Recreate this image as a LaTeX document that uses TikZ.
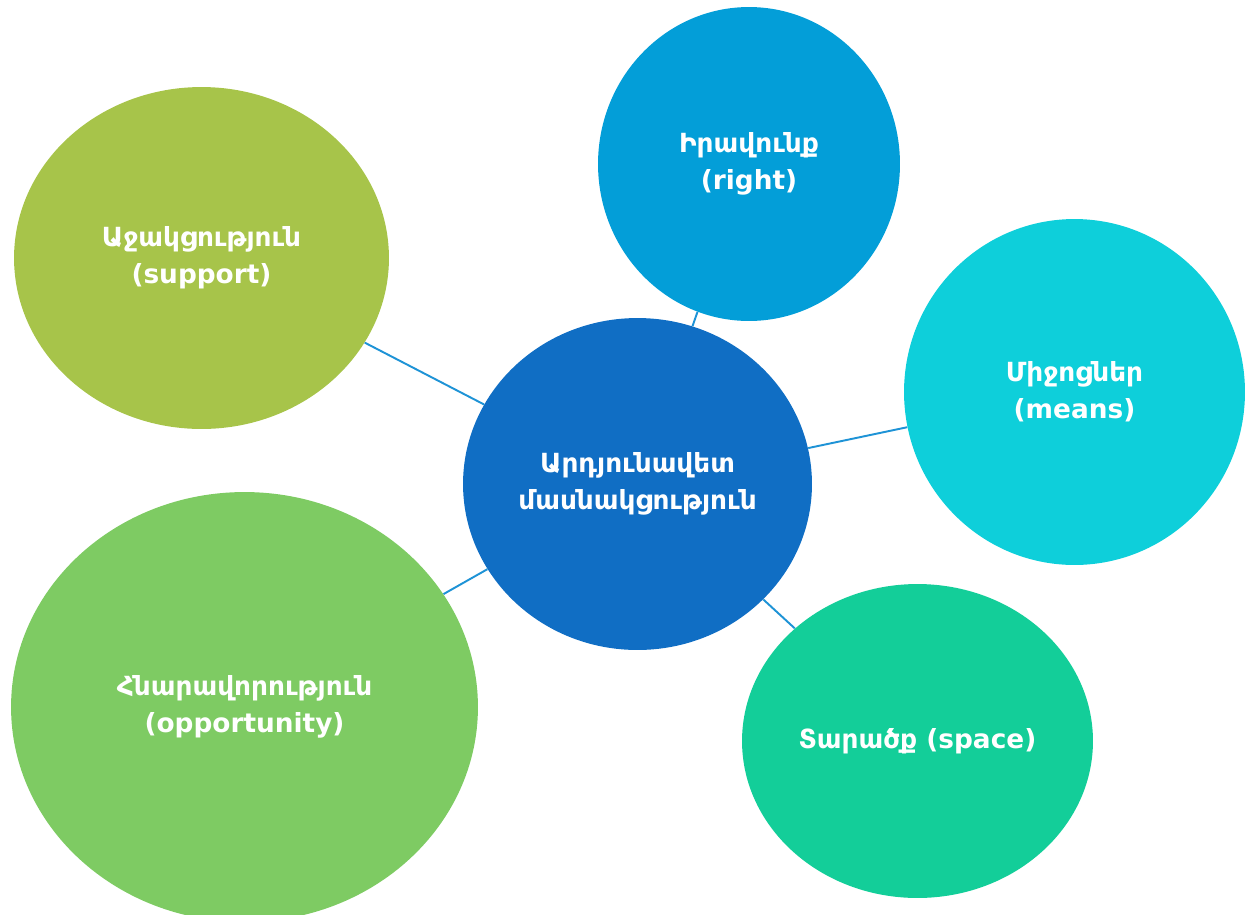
\documentclass[tikz,border=0pt]{standalone}
\usepackage{fontspec}
\setmainfont{DejaVu Sans}
\usetikzlibrary{shapes.geometric}
\definecolor{mainblue}{HTML}{106EC4}
\definecolor{supportgreen}{HTML}{A7C44A}
\definecolor{oppgreen}{HTML}{7ECB63}
\definecolor{rightblue}{HTML}{039ED8}
\definecolor{meanscyan}{HTML}{0ECFDA}
\definecolor{spacegreen}{HTML}{13CE99}
\definecolor{linkblue}{HTML}{1E93D6}

\begin{document}
\begin{tikzpicture}[x=0.02cm,y=-0.02cm,
    bubble/.style ={ellipse, inner sep=0pt, align=center, text=white,
                    font=\bfseries\fontsize{15}{21}\selectfont},
    link/.style ={draw=linkblue, line width=1.1pt}]
   \useasboundingbox (0,0) rectangle (1248,914);
   \node[bubble, fill=mainblue, minimum width=6.98cm, minimum height=6.64cm] (A) at (637.5,484) {Արդյունավետ\\մասնակցություն};
   \node[bubble, fill=supportgreen, minimum width=7.5cm, minimum height=6.84cm] (B) at (201.5,258) {Աջակցություն\\(support)};
   \node[bubble, fill=oppgreen, minimum width=9.34cm, minimum height=8.6cm] (C) at (244.5,707) {Հնարավորություն\\(opportunity)};
   \node[bubble, fill=rightblue, minimum width=6.04cm, minimum height=6.28cm] (D) at (749,164) {Իրավունք\\(right)};
   \node[bubble, fill=meanscyan, minimum width=6.82cm, minimum height=6.92cm] (E) at (1074.5,392) {Միջոցներ\\(means)};
   \node[bubble, fill=spacegreen, minimum width=7.02cm, minimum height=6.28cm] (F) at (917.5,741) {Տարածք (space)};
   \draw[link] (A) to (B);
   \draw[link] (A) to (C);
   \draw[link] (A) to (D);
   \draw[link] (A) to (E);
   \draw[link] (A) to (F);
\end{tikzpicture}
\end{document}
